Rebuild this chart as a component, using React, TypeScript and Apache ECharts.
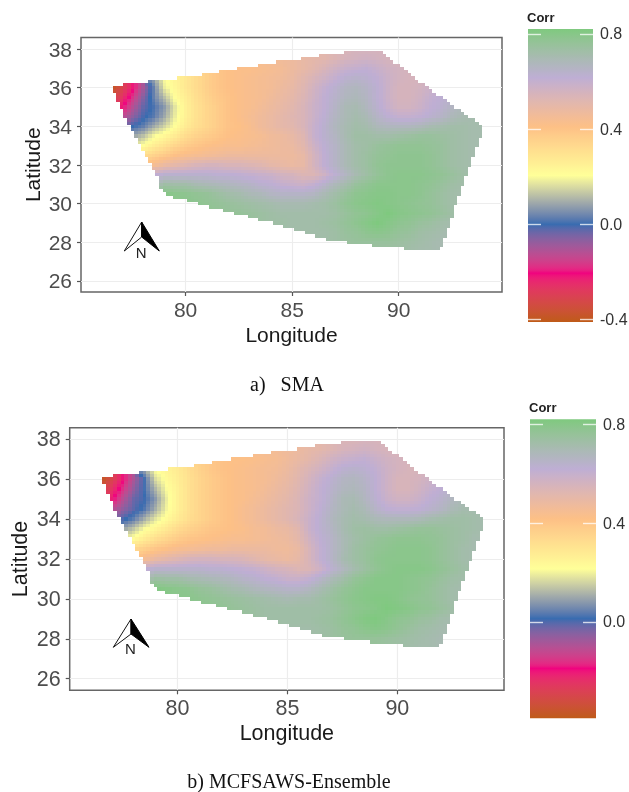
import React, { useEffect, useRef } from "react";
import * as echarts from "echarts";

// Brewer "Accent" ramp used by the colour bars, low to high
const palette = ["#BF5B17", "#F0027F", "#386CB0", "#FFFF99", "#FDC086", "#BEAED4", "#7FC97F"];
const lonTicks = [80, 85, 90];
const latTicks = [26, 28, 30, 32, 34, 36, 38];
const barTicksA = [-0.4, 0, 0.4, 0.8];
const barTicksB = [0, 0.4, 0.8];
const captionA = "a)   SMA";
const captionB = "b) MCFSAWS-Ensemble";

// Outline of the mapped region [lon, lat]
const outline: number[][] = [
  [76.54, 36.1], [77.47, 36.2], [78.41, 36.36], [80.05, 36.55], [84.28, 37.33], [85.37, 37.48], [86.3, 37.67],
  [88.2, 37.96], [89.1, 37.96], [90.85, 36.42], [92.4, 35.2], [93.98, 33.96], [93.33, 31.92], [92.5, 29.33],
  [91.95, 27.6], [90.85, 27.6], [89.45, 27.74], [88.04, 27.91], [86.63, 28.15], [85.06, 28.7], [81.3, 29.78],
  [79.12, 30.45], [78.77, 30.8], [78.7, 31.4], [77.94, 32.95], [77.32, 34.08], [76.54, 36.0],
];

// Correlation. Each row: [lat, first lon, values every 0.5 deg of lon...]
const smaRows: number[][] = [
  [38, 87.5, .54, .55, .55, .55, .55],
  [37.5, 83.5, .44, .45, .46, .47, .49, .50, .51, .53, .55, .56, .57, .56, .55, .54],
  [37, 81, .36, .39, .41, .42, .42, .43, .44, .45, .47, .49, .51, .54, .57, .59, .60, .61, .59, .57, .56, .55, .54],
  [36.5, 78.5, .08, .20, .24, .28, .32, .36, .39, .41, .42, .43, .44, .45, .46, .48, .51, .54, .57, .60, .63, .64, .63, .61, .58, .56, .55, .55, .56, .57],
  [36, 76.5, -.41, -.32, -.22, -.10, .03, .18, .23, .28, .32, .36, .39, .41, .42, .43, .44, .45, .47, .49, .52, .56, .60, .63, .66, .67, .65, .62, .58, .55, .55, .56, .58, .60, .61, .62],
  [35.5, 76.5, -.35, -.27, -.17, -.06, .03, .12, .21, .26, .31, .35, .38, .40, .42, .43, .44, .46, .48, .50, .53, .57, .61, .64, .67, .68, .66, .62, .58, .55, .55, .57, .60, .62, .63, .64],
  [35, 76.5, -.30, -.22, -.12, -.03, .01, .07, .17, .25, .30, .34, .37, .40, .42, .43, .45, .47, .49, .51, .54, .58, .61, .65, .69, .70, .67, .63, .59, .56, .56, .58, .61, .63, .66, .68, .69],
  [34.5, 77, -.14, -.07, -.01, .02, .09, .18, .25, .30, .34, .37, .40, .42, .44, .46, .48, .50, .52, .54, .58, .62, .66, .69, .71, .69, .65, .62, .60, .60, .61, .63, .65, .68, .70, .71, .71],
  [34, 77, -.06, .0, .03, .09, .15, .21, .27, .31, .34, .37, .40, .41, .43, .46, .48, .50, .51, .54, .59, .63, .67, .70, .72, .71, .68, .67, .67, .67, .68, .70, .71, .72, .72, .71, .71],
  [33.5, 77.5, .08, .12, .19, .23, .27, .32, .35, .37, .39, .41, .42, .43, .44, .46, .47, .49, .52, .59, .63, .66, .70, .73, .73, .72, .72, .73, .74, .75, .75, .74, .73, .72, .71, .71],
  [33, 77.5, .16, .21, .26, .30, .34, .37, .39, .41, .42, .43, .43, .44, .45, .46, .47, .48, .51, .57, .62, .65, .69, .72, .73, .75, .76, .77, .77, .77, .76, .75, .73, .72, .71],
  [32.5, 78, .32, .35, .38, .41, .43, .44, .45, .46, .47, .47, .47, .47, .47, .47, .47, .49, .55, .61, .65, .69, .72, .74, .76, .77, .78, .78, .78, .77, .75, .73, .72, .71],
  [32, 78, .40, .44, .48, .50, .52, .54, .55, .55, .54, .54, .53, .52, .50, .49, .48, .49, .55, .61, .65, .69, .72, .74, .77, .78, .78, .78, .78, .77, .75, .73, .72, .71],
  [31.5, 78.5, .60, .63, .63, .63, .63, .63, .62, .62, .61, .60, .59, .58, .56, .55, .53, .53, .57, .62, .66, .70, .73, .76, .78, .79, .79, .79, .78, .77, .75, .73, .72, .71],
  [31, 78.5, .68, .73, .72, .72, .70, .69, .68, .67, .66, .65, .63, .62, .60, .59, .58, .60, .64, .68, .71, .75, .77, .79, .79, .79, .79, .78, .77, .75, .73, .72],
  [30.5, 79, .80, .79, .78, .77, .76, .74, .72, .71, .69, .68, .66, .65, .65, .65, .66, .69, .72, .75, .78, .79, .80, .80, .79, .79, .78, .76, .74, .72, .71],
  [30, 80, .79, .78, .77, .76, .75, .74, .73, .72, .71, .70, .70, .70, .71, .72, .74, .77, .79, .80, .81, .80, .79, .78, .77, .76, .74, .72, .71],
  [29.5, 81, .78, .77, .76, .76, .75, .74, .73, .72, .72, .72, .72, .72, .73, .75, .77, .78, .80, .82, .80, .79, .78, .77, .75, .73, .72],
  [29, 83, .75, .74, .73, .73, .72, .72, .72, .73, .74, .76, .78, .80, .82, .80, .78, .77, .75, .74, .72, .71],
  [28.5, 85, .72, .72, .72, .72, .73, .75, .76, .78, .79, .78, .76, .75, .73, .72, .71, .70],
  [28, 86.5, .72, .73, .74, .75, .75, .75, .75, .74, .73, .72, .71, .70],
  [27.5, 88, .74, .74, .74, .73, .73, .72, .71, .71, .70],
];

const ensembleRows: number[][] = [
  [38, 87.5, .54, .54, .55, .55, .55],
  [37.5, 83.5, .45, .45, .46, .47, .48, .50, .51, .53, .55, .56, .57, .56, .55, .54],
  [37, 81, .37, .39, .41, .42, .42, .43, .44, .45, .47, .49, .51, .54, .57, .59, .60, .61, .59, .57, .56, .55, .54],
  [36.5, 78.5, .10, .22, .25, .28, .32, .36, .39, .41, .42, .43, .44, .45, .46, .48, .51, .54, .57, .60, .63, .64, .63, .61, .58, .56, .55, .55, .56, .57],
  [36, 76.5, -.39, -.30, -.20, -.09, .02, .17, .23, .27, .31, .35, .38, .40, .42, .43, .44, .45, .47, .49, .52, .56, .60, .63, .66, .67, .65, .62, .58, .55, .55, .56, .58, .60, .61, .63],
  [35.5, 76.5, -.33, -.25, -.16, -.06, .02, .12, .21, .26, .31, .35, .38, .40, .42, .43, .44, .46, .48, .50, .53, .57, .61, .64, .67, .68, .66, .62, .58, .55, .55, .57, .60, .62, .64, .65],
  [35, 76.5, -.28, -.21, -.11, -.02, .01, .08, .19, .26, .31, .35, .38, .40, .42, .43, .45, .47, .49, .51, .54, .58, .61, .65, .69, .70, .67, .63, .59, .57, .57, .59, .62, .64, .67, .69, .70],
  [34.5, 77, -.12, -.06, -.01, .03, .11, .20, .26, .31, .35, .38, .40, .42, .44, .46, .48, .50, .52, .54, .58, .62, .66, .69, .71, .69, .65, .62, .61, .61, .62, .64, .66, .69, .71, .71, .71],
  [34, 77, -.05, .0, .04, .11, .18, .23, .28, .32, .35, .38, .40, .42, .44, .46, .48, .50, .52, .55, .59, .63, .67, .70, .72, .71, .69, .68, .68, .68, .69, .71, .72, .73, .73, .72, .71],
  [33.5, 77.5, .09, .14, .21, .25, .29, .33, .36, .38, .40, .41, .42, .43, .45, .46, .48, .49, .52, .59, .63, .66, .70, .73, .74, .73, .73, .74, .75, .76, .76, .75, .74, .73, .72, .71],
  [33, 77.5, .18, .23, .28, .32, .35, .38, .40, .41, .42, .43, .44, .44, .45, .46, .47, .48, .51, .57, .62, .65, .69, .72, .74, .76, .77, .78, .78, .78, .77, .76, .74, .73, .71],
  [32.5, 78, .34, .37, .40, .42, .44, .45, .46, .47, .47, .48, .48, .48, .48, .47, .47, .49, .55, .61, .65, .69, .73, .75, .77, .78, .79, .79, .79, .78, .76, .74, .72, .71],
  [32, 78, .41, .45, .49, .51, .53, .55, .56, .56, .55, .55, .54, .52, .50, .49, .48, .50, .55, .61, .65, .70, .73, .75, .78, .79, .79, .79, .79, .78, .76, .74, .72, .71],
  [31.5, 78.5, .61, .64, .64, .64, .64, .64, .63, .63, .62, .61, .60, .58, .56, .55, .53, .54, .58, .63, .67, .71, .74, .77, .79, .80, .80, .80, .79, .77, .75, .73, .72, .71],
  [31, 78.5, .69, .74, .73, .73, .71, .70, .69, .68, .67, .65, .64, .62, .61, .59, .59, .61, .65, .69, .72, .76, .78, .80, .80, .80, .79, .78, .77, .75, .73, .72],
  [30.5, 79, .81, .80, .79, .78, .76, .75, .73, .71, .70, .68, .67, .66, .65, .65, .67, .70, .73, .76, .78, .80, .80, .80, .80, .79, .78, .76, .74, .72, .71],
  [30, 80, .79, .79, .78, .77, .76, .75, .74, .73, .72, .71, .70, .71, .71, .73, .75, .77, .79, .80, .81, .81, .80, .78, .77, .76, .74, .72, .71],
  [29.5, 81, .78, .78, .77, .76, .75, .74, .73, .73, .73, .73, .73, .73, .74, .76, .78, .79, .80, .82, .81, .80, .78, .77, .75, .73, .72],
  [29, 83, .75, .74, .73, .73, .73, .73, .73, .74, .75, .77, .79, .81, .82, .80, .78, .77, .75, .74, .72, .71],
  [28.5, 85, .72, .72, .72, .73, .74, .76, .77, .79, .80, .79, .77, .75, .73, .72, .71, .70],
  [28, 86.5, .73, .74, .75, .76, .76, .76, .75, .74, .73, .72, .71, .70],
  [27.5, 88, .74, .75, .75, .74, .73, .72, .71, .71, .70],
];

const FONT = "Liberation Sans";
const SUB = 3; // shading steps drawn inside each 0.5-degree data cell

// ggplot blends a gradient's stops in Lab space
function hexToLab(hex: string) {
  const n = parseInt(hex.slice(1), 16);
  const lin = [(n >> 16) & 255, (n >> 8) & 255, n & 255].map((c) => {
    const s = c / 255;
    return s <= 0.04045 ? s / 12.92 : Math.pow((s + 0.055) / 1.055, 2.4);
  });
  const f = (t: number) => (t > 0.008856 ? Math.cbrt(t) : 7.787 * t + 16 / 116);
  const x = f((0.4124 * lin[0] + 0.3576 * lin[1] + 0.1805 * lin[2]) / 0.95047);
  const y = f(0.2126 * lin[0] + 0.7152 * lin[1] + 0.0722 * lin[2]);
  const z = f((0.0193 * lin[0] + 0.1192 * lin[1] + 0.9505 * lin[2]) / 1.08883);
  return [116 * y - 16, 500 * (x - y), 200 * (y - z)];
}
function labToHex([L, a, b]: number[]) {
  const fy = (L + 16) / 116;
  const inv = (t: number) => (t * t * t > 0.008856 ? t * t * t : (t - 16 / 116) / 7.787);
  const X = inv(fy + a / 500) * 0.95047;
  const Y = inv(fy);
  const Z = inv(fy - b / 200) * 1.08883;
  const rgb = [
    3.2406 * X - 1.5372 * Y - 0.4986 * Z,
    -0.9689 * X + 1.8758 * Y + 0.0415 * Z,
    0.0557 * X - 0.204 * Y + 1.057 * Z,
  ].map((c) => {
    const s = c <= 0.0031308 ? 12.92 * c : 1.055 * Math.pow(Math.max(c, 0), 1 / 2.4) - 0.055;
    return Math.round(Math.min(1, Math.max(0, s)) * 255);
  });
  return `rgb(${rgb[0]},${rgb[1]},${rgb[2]})`;
}
const paletteLab = palette.map(hexToLab);
function ramp(t: number) {
  const p = Math.min(0.99999, Math.max(0, t)) * (palette.length - 1);
  const i = Math.floor(p);
  const f = p - i;
  return labToHex(paletteLab[i].map((c, k) => c + (paletteLab[i + 1][k] - c) * f));
}

function insideOutline(lon: number, lat: number) {
  let inside = false;
  for (let i = 0, j = outline.length - 1; i < outline.length; j = i++) {
    const [xi, yi] = outline[i];
    const [xj, yj] = outline[j];
    if (yi > lat !== yj > lat && lon < ((xj - xi) * (lat - yi)) / (yj - yi) + xi) inside = !inside;
  }
  return inside;
}

function toItems(rows: number[][]) {
  const items: number[][] = [];
  rows.forEach(([lat, lon0, ...vals]) => vals.forEach((v, i) => items.push([lon0 + i * 0.5, lat, v])));
  return items;
}

function mapSeries(rows: number[][], gridIndex: number, vMin: number, vMax: number) {
  const items = toItems(rows);
  const lookup = new Map<string, number>();
  items.forEach(([lon, lat, v]) => lookup.set(`${Math.round(lon * 2)}_${Math.round(lat * 2)}`, v));
  const shade = (lon: number, lat: number) => {
    const i0 = Math.floor(lon * 2);
    const j0 = Math.floor(lat * 2);
    const fx = lon * 2 - i0;
    const fy = lat * 2 - j0;
    let sum = 0;
    let weight = 0;
    [[0, 0, (1 - fx) * (1 - fy)], [1, 0, fx * (1 - fy)], [0, 1, (1 - fx) * fy], [1, 1, fx * fy]].forEach(([a, b, w]) => {
      const v = lookup.get(`${i0 + a}_${j0 + b}`);
      if (v !== undefined) {
        sum += v * w;
        weight += w;
      }
    });
    return sum / weight;
  };
  return {
    type: "custom",
    xAxisIndex: gridIndex,
    yAxisIndex: gridIndex,
    silent: true,
    data: items,
    encode: { x: 0, y: 1 },
    renderItem: (_: any, api: any) => {
      const lon = api.value(0);
      const lat = api.value(1);
      const children: any[] = [];
      const step = 0.5 / SUB;
      for (let a = 0; a < SUB; a++) {
        for (let b = 0; b < SUB; b++) {
          const lo = lon - 0.25 + a * step;
          const la = lat - 0.25 + b * step;
          if (!insideOutline(lo + step / 2, la + step / 2)) continue;
          const p0 = api.coord([lo, la + step]);
          const p1 = api.coord([lo + step, la]);
          const x = Math.round(p0[0]);
          const y = Math.round(p0[1]);
          const t = (shade(lo + step / 2, la + step / 2) - vMin) / (vMax - vMin);
          children.push({
            type: "rect",
            shape: { x, y, width: Math.round(p1[0]) - x, height: Math.round(p1[1]) - y },
            style: { fill: ramp(t) },
          });
        }
      }
      return { type: "group", children };
    },
  };
}

function barSeries(gridIndex: number, vMin: number, vMax: number) {
  const stops = Array.from({ length: 121 }, (_, i) => ({ offset: i / 120, color: ramp(i / 120) }));
  return {
    type: "custom",
    xAxisIndex: gridIndex,
    yAxisIndex: gridIndex,
    silent: true,
    data: [[vMin, vMax]],
    encode: { y: [0, 1] },
    renderItem: (params: any, api: any) => {
      const top = api.coord([0, vMax]);
      const bottom = api.coord([0, vMin]);
      return {
        type: "rect",
        shape: { x: params.coordSys.x, y: top[1], width: params.coordSys.width, height: bottom[1] - top[1] },
        style: { fill: new echarts.graphic.LinearGradient(0, 1, 0, 0, stops) },
      };
    },
  };
}

function panelAxes(gridIndex: number, xr: number[], yr: number[], fs: number, nameFs: number, gapX: number, gapY: number) {
  const line = { show: false };
  const tick = { show: true, length: 4, lineStyle: { color: "#555", width: 1.2 } };
  const split = { show: true, lineStyle: { color: "#ededed", width: 1.2 } };
  const label = { color: "#4d4d4d", fontSize: fs, fontFamily: FONT };
  return {
    x: {
      type: "value", gridIndex, min: xr[0], max: xr[1], name: "Longitude", nameLocation: "middle", nameGap: gapX, nameMoveOverlap: false,
      nameTextStyle: { color: "#1a1a1a", fontSize: nameFs, fontFamily: FONT },
      axisLine: line, axisTick: { ...tick, customValues: lonTicks }, splitLine: split,
      axisLabel: { ...label, margin: 7, customValues: lonTicks, formatter: (v: number) => String(v) },
    },
    y: {
      type: "value", gridIndex, min: yr[0], max: yr[1], name: "Latitude", nameLocation: "middle", nameGap: gapY, nameMoveOverlap: false,
      nameTextStyle: { color: "#1a1a1a", fontSize: nameFs, fontFamily: FONT },
      axisLine: line, axisTick: { ...tick, customValues: latTicks }, splitLine: split,
      axisLabel: { ...label, margin: 9, customValues: latTicks, formatter: (v: number) => String(v) },
    },
  };
}

function barAxes(gridIndex: number, vMin: number, vMax: number, ticks: number[]) {
  const tick = { show: true, inside: true, length: 13, customValues: ticks, lineStyle: { color: "rgba(255,255,255,0.75)", width: 1.4 } };
  const base = { type: "value", gridIndex, min: vMin, max: vMax, z: 5, axisLine: { show: false }, splitLine: { show: false } };
  return {
    x: { type: "value", gridIndex, show: false, min: 0, max: 1 },
    yl: { ...base, position: "left", axisTick: tick, axisLabel: { show: false } },
    yr: {
      ...base, position: "right", axisTick: tick,
      axisLabel: {
        customValues: ticks, color: "#333", fontSize: 16, fontFamily: FONT, margin: 7,
        formatter: (v: number) => v.toFixed(1),
      },
    },
  };
}

function arrow(apex: number[], left: number[], right: number[], notch: number[]) {
  return [
    { type: "polygon", shape: { points: [apex, left, notch] }, style: { fill: "#fff", stroke: "#111", lineWidth: 1 }, z: 10 },
    { type: "polygon", shape: { points: [apex, right, notch] }, style: { fill: "#000", stroke: "#000", lineWidth: 1 }, z: 10 },
    { type: "text", x: notch[0] - 0.5, y: left[1] + 1, z: 11, style: { text: "N", fill: "#222", fontSize: 15, fontFamily: FONT, align: "center", verticalAlign: "middle" } },
  ];
}

function text(s: string, x: number, y: number, fontSize: number, fontFamily: string, fontWeight: string, fill: string, align = "left") {
  return { type: "text", x, y, z: 11, style: { text: s, fontSize, fontFamily, fontWeight, fill, align, verticalAlign: "middle" } };
}

export default function App() {
  const ref = useRef<HTMLDivElement>(null);
  useEffect(() => {
    const chart = echarts.init(ref.current!, undefined, { renderer: "svg" });
    const a = panelAxes(0, [75.09, 94.85], [25.43, 38.6], 21, 21, 32, 38);
    const b = panelAxes(1, [75.1, 94.85], [25.42, 38.57], 21.5, 21.5, 32, 39);
    const la = barAxes(2, -0.41, 0.82, barTicksA);
    const lb = barAxes(3, -0.39, 0.82, barTicksB);
    const panelGrid = { show: true, backgroundColor: "#fff", borderColor: "#666", borderWidth: 1.5, outerBoundsMode: "none" };
    chart.setOption({
      animation: false,
      grid: [
        { ...panelGrid, left: 81, top: 37.5, width: 421, height: 254.5 },
        { ...panelGrid, left: 69.7, top: 427.7, width: 434.3, height: 262.6 },
        { left: 528, top: 29, width: 65, height: 293, outerBoundsMode: "none" },
        { left: 530, top: 419.3, width: 66, height: 299, outerBoundsMode: "none" },
      ],
      xAxis: [a.x, b.x, la.x, lb.x],
      yAxis: [a.y, b.y, la.yl, lb.yl, la.yr, lb.yr],
      series: [
        mapSeries(smaRows, 0, -0.41, 0.82),
        mapSeries(ensembleRows, 1, -0.39, 0.82),
        barSeries(2, -0.41, 0.82),
        barSeries(3, -0.39, 0.82),
      ],
      graphic: [
        ...arrow([141.7, 222], [124.3, 251], [159.3, 251], [141.7, 237]),
        ...arrow([131, 619], [113.3, 647.3], [149, 647.3], [131, 634]),
        text("Corr", 527, 17, 13, FONT, "bold", "#222"),
        text("Corr", 529, 407, 13, FONT, "bold", "#222"),
        text(captionA, 287, 384, 20, "Liberation Serif", "normal", "#111", "center"),
        text(captionB, 289, 781, 20, "Liberation Serif", "normal", "#111", "center"),
      ],
    });
    return () => chart.dispose();
  }, []);
  return <div ref={ref} style={{ position: "absolute", left: 0, top: 0, width: 629, height: 792, filter: "blur(0.7px)" }} />;
}
